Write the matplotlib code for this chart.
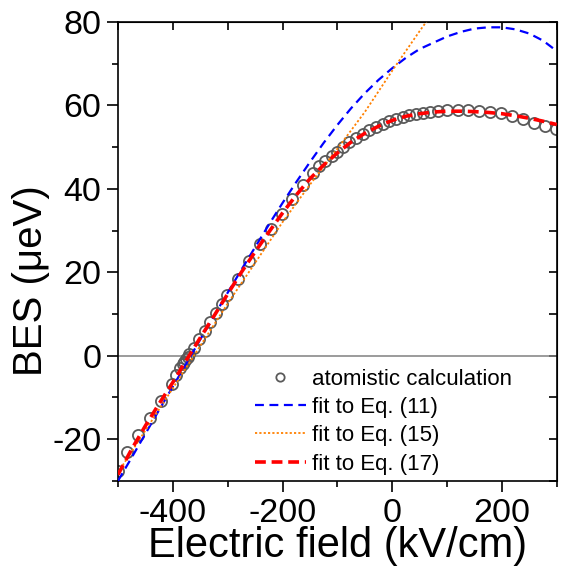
import matplotlib
matplotlib.use("Agg")
import matplotlib.pyplot as plt
import numpy as np

plt.rcParams['font.family'] = ['Liberation Sans', 'DejaVu Sans']
plt.rcParams['axes.unicode_minus'] = False

# atomistic calculation (circles)
x_atom = [-500, -483, -463, -442, -422, -402, -394, -386, -382, -379, -376, -373, -370,
          -362, -352, -342, -332, -322, -311, -301, -282, -261, -241, -221, -201, -183,
          -162, -145, -133, -122, -110, -100, -90, -78, -66, -54, -42, -29, -17, -5,
          7, 19, 31, 44, 56, 68, 83, 99, 119, 139, 159, 179, 199, 219, 239, 259, 279, 299]
y_atom = [-27.5, -23.0, -19.1, -15.0, -10.9, -6.7, -4.7, -2.9, -2.0, -1.4, -0.8, -0.2, 0.4,
          1.8, 3.9, 5.9, 8.0, 10.2, 12.4, 14.5, 18.5, 22.7, 26.7, 30.4, 34.0, 37.5,
          40.9, 43.9, 45.4, 46.6, 47.8, 48.9, 50.0, 51.2, 52.2, 53.2, 54.0, 54.9, 55.6, 56.2,
          56.8, 57.3, 57.7, 58.0, 58.2, 58.5, 58.6, 58.8, 58.8, 58.8, 58.7, 58.5, 58.2, 57.5,
          56.7, 55.8, 55.1, 54.4]

# fit curves, read every 25 kV/cm
x_fit = list(range(-500, 301, 25))
y_eq11 = [-30.0, -24.4, -18.7, -13.0, -7.4, -1.8, 3.9, 9.5, 15.1, 20.6, 26.0, 31.4, 36.6,
          41.6, 46.4, 51.0, 55.3, 59.3, 62.9, 66.1, 68.9, 71.4, 73.5, 75.0, 76.5, 77.6,
          78.4, 78.7, 78.7, 78.2, 77.2, 75.5, 73.0]
y_eq17 = [-28.5, -22.4, -16.8, -11.5, -6.4, -1.0, 4.3, 9.5, 14.8, 20.0, 24.9, 29.6, 34.2,
          38.5, 42.4, 45.7, 48.6, 51.2, 53.3, 55.0, 56.4, 57.4, 58.0, 58.4, 58.6, 58.6,
          58.5, 58.3, 58.0, 57.5, 56.9, 56.2, 55.4]

# Eq. (15) is almost straight, runs off the top
x_eq15 = [-500, -400, -300, -200, -150, -100, -50, 0, 50, 100]
y_eq15 = [-28.0, -7.8, 12.5, 32.0, 41.0, 49.6, 58.4, 68.3, 77.8, 87.0]

fig = plt.figure(figsize=(5.67, 5.76), dpi=100)
ax = fig.add_axes([0.208, 0.165, 0.774, 0.797])

ax.axhline(0, color="#808080", lw=1.1, zorder=1)
ax.plot(x_atom, y_atom, "o", mfc="none", mec="#5a5a5a", mew=1.3, ms=8,
        label="atomistic calculation", zorder=2)
ax.plot(x_fit, y_eq11, color="#0000ff", lw=1.6, ls=(0, (4, 2.5)),
        label="fit to Eq. (11)", zorder=3)
ax.plot(x_eq15, y_eq15, color="#ff8000", lw=1.3, ls=(0, (1.2, 1.2)),
        label="fit to Eq. (15)", zorder=3)
ax.plot(x_fit, y_eq17, color="#ff0000", lw=2.6, ls=(0, (3, 1.6)),
        label="fit to Eq. (17)", zorder=4)

ax.set_xlim(-500, 300)
ax.set_ylim(-30, 80)
ax.set_xticks([-400, -200, 0, 200])
ax.set_xticks([-500, -300, -100, 100, 300], minor=True)
ax.set_yticks([-20, 0, 20, 40, 60, 80])
ax.set_yticks([-30, -10, 10, 30, 50, 70], minor=True)
ax.tick_params(which="major", direction="out", length=8, width=1.2, labelsize=24.5, pad=4)
ax.tick_params(which="minor", direction="out", length=4.5, width=1.2)
for s in ax.spines.values():
    s.set_linewidth(1.2)

# top and right ticks point inward
top = ax.secondary_xaxis("top")
top.set_xticks(range(-500, 301, 100))
top.tick_params(direction="in", length=6, width=1.2, labeltop=False)
right = ax.secondary_yaxis("right")
right.set_yticks(range(-30, 81, 10))
right.tick_params(direction="in", length=6, width=1.2, labelright=False)

ax.set_xlabel("Electric field (kV/cm)", fontsize=30, labelpad=-2)
ax.set_ylabel("BES (\u03bceV)", fontsize=29)
ax.yaxis.set_label_coords(-0.155, 0.436)

ax.legend(loc="lower right", bbox_to_anchor=(0.929, -0.015), frameon=False, fontsize=16,
          handlelength=2.3, handletextpad=0.3, labelspacing=0.33, markerscale=0.75,
          borderaxespad=0.2)

fig.savefig("out.png", dpi=100)
